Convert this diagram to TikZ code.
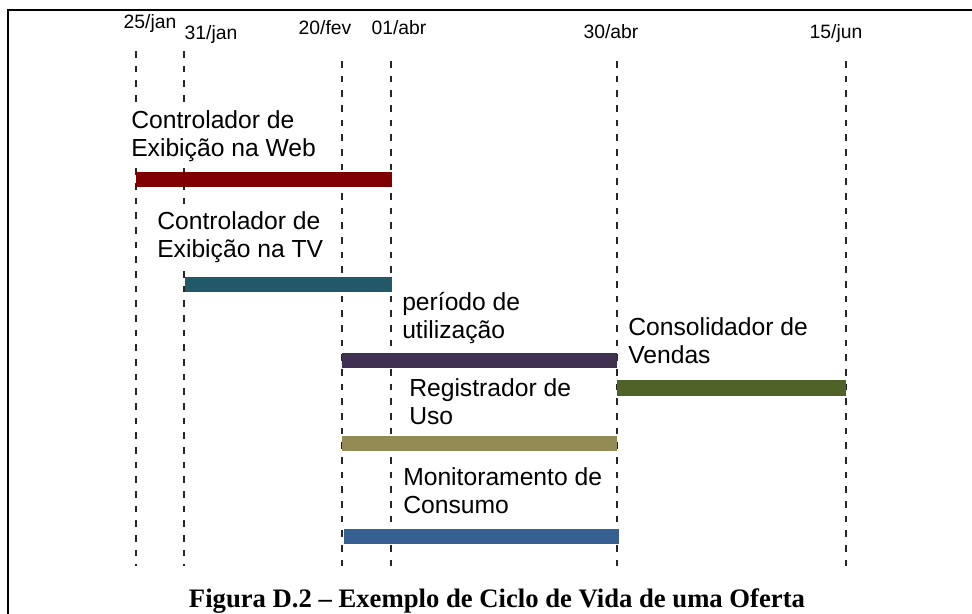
\documentclass[tikz,border=0pt]{standalone}
\usepackage{fontspec}
\setmainfont{Liberation Serif}
\setsansfont{Liberation Sans}
\definecolor{webred}{RGB}{127,0,0}
\definecolor{tvteal}{RGB}{33,89,104}
\definecolor{usepurple}{RGB}{64,49,82}
\definecolor{salesgreen}{RGB}{79,98,40}
\definecolor{regkhaki}{RGB}{148,138,84}
\definecolor{monblue}{RGB}{55,96,146}
\begin{document}
\begin{tikzpicture}[x=0.75pt, y=-0.75pt,
  datelabel/.style={anchor=base, inner sep=0pt, font=\sffamily\fontsize{14.5}{17}\selectfont},
  barlabel/.style={anchor=base west, inner xsep=0pt, inner ysep=4pt, fill=white, align=left, font=\sffamily\fontsize{18.5}{21}\selectfont},
  dateline/.style={line width=1.5pt, dash pattern=on 5pt off 6pt, black!85},
  frameline/.style={line width=1.3pt}]
\useasboundingbox (0,0) rectangle (972,614);
\draw[frameline] (972,10) -- (8,10) -- (8,614);
% dates
\node[datelabel] (jan25) at (150,28) {25/jan};
\node[datelabel] (jan31) at (211,40) {31/jan};
\node[datelabel] (fev20) at (325,35) {20/fev};
\node[datelabel] (abr01) at (399,35) {01/abr};
\node[datelabel] (abr30) at (611,38) {30/abr};
\node[datelabel] (jun15) at (836,38) {15/jun};
\foreach \x/\top in {136/51, 184/51, 342/61, 391/61, 617/61, 846/61}
  \draw[dateline] (\x,\top) -- (\x,566);
% bars
\fill[webred] (136,172) rectangle (392,187);
\fill[tvteal] (185,277) rectangle (392,292);
\fill[usepurple] (342,353) rectangle (617,368);
\fill[salesgreen] (617,380) rectangle (846,396);
\fill[regkhaki] (342,436) rectangle (617,451);
\fill[monblue] (344,529) rectangle (619,544);
% labels (base = last line)
\node[barlabel] (web) at (131,156) {Controlador de\\Exibição na Web};
\node[barlabel] (tv) at (157,257) {Controlador de\\Exibição na TV};
\node[barlabel] (uso) at (402,338) {período de\\utilização};
\node[barlabel] (vendas) at (628,363) {Consolidador de\\Vendas};
\node[barlabel] (registro) at (409,424) {Registrador de\\Uso};
\node[barlabel] (consumo) at (403,513) {Monitoramento de\\Consumo};
\node[anchor=base, inner sep=0pt, font=\bfseries\fontsize{20}{24}\selectfont] (caption) at (497,607) {Figura D.2 – Exemplo de Ciclo de Vida de uma Oferta};
\end{tikzpicture}
\end{document}
